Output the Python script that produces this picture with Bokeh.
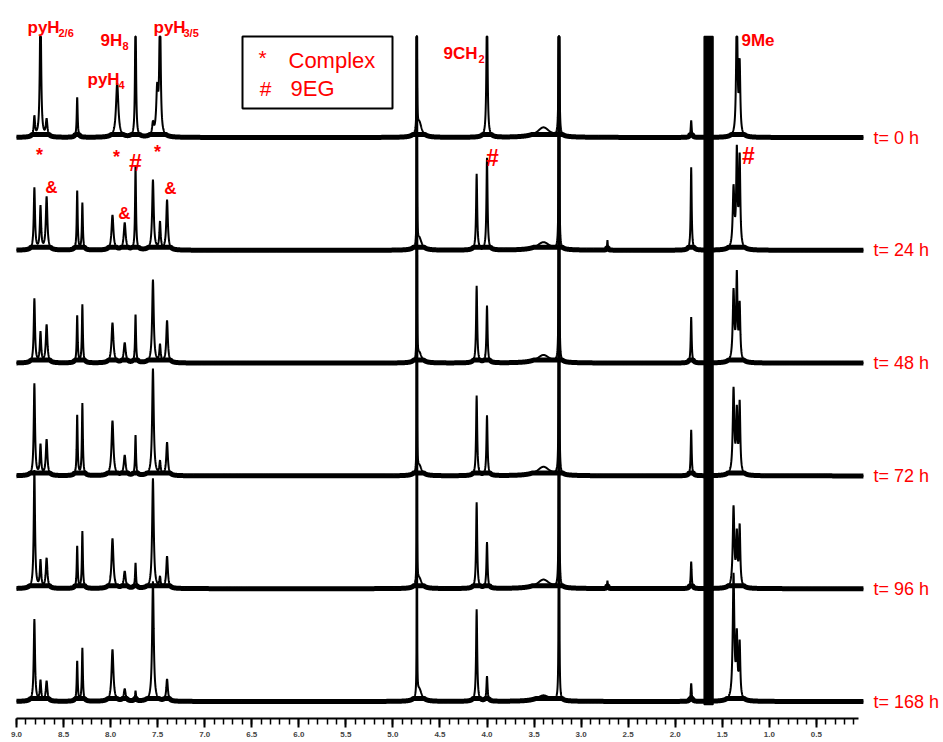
import numpy as np
from bokeh.plotting import figure
from bokeh.models import Range1d, SingleIntervalTicker, PrintfTickFormatter
from bokeh.core.properties import value
from bokeh.embed import file_html
from bokeh.resources import INLINE

# ---------------- data ----------------
TIME_LABELS = ["t= 0 h", "t= 24 h", "t= 48 h", "t= 72 h", "t= 96 h", "t= 168 h"]

# shared peak positions (ppm) and half widths (ppm)
PEAK_PPM  = [8.81, 8.745, 8.68, 8.355, 8.30, 7.98, 7.93, 7.85, 7.735, 7.55, 7.505, 7.475, 7.40,
             4.72, 4.11, 4.00, 3.40, 2.72, 1.83, 1.38, 1.345, 1.315]
PEAK_HWHM = [0.008, 0.008, 0.010, 0.006, 0.006, 0.012, 0.015, 0.012, 0.006, 0.010, 0.012, 0.008, 0.010,
             0.030, 0.007, 0.007, 0.080, 0.004, 0.006, 0.010, 0.008, 0.008]

# peak heights for each spectrum (px above its own baseline; >100 means off-scale)
H_0H   = [20, 140, 17, 40, 0, 0, 54, 0, 140, 12, 45, 140, 0,
          15, 0, 140, 10, 0, 17, 0, 140, 70]
H_24H  = [62, 43, 53, 59, 47, 35, 0, 27, 84, 70, 0, 27, 50,
          12, 76, 92, 8, 10, 83, 60, 95, 90]
H_48H  = [64, 30, 38, 47, 58, 40, 0, 20, 48, 83, 0, 17, 42,
          10, 77, 57, 8, 0, 46, 70, 84, 55]
H_72H  = [92, 30, 36, 60, 72, 55, 0, 20, 40, 107, 0, 13, 33,
          10, 80, 60, 9, 0, 46, 85, 60, 70]
H_96H  = [118, 27, 30, 42, 57, 50, 0, 17, 25, 110, 0, 10, 32,
          10, 86, 46, 9, 8, 27, 80, 50, 60]
H_168H = [82, 20, 20, 40, 53, 52, 0, 12, 10, 120, 0, 0, 22,
          12, 92, 25, 6, 0, 18, 125, 60, 55]
HEIGHTS = [H_0H, H_24H, H_48H, H_72H, H_96H, H_168H]

# off-scale solvent / reference lines present in every spectrum
SOLVENT_PPM    = [4.745, 3.235]
SOLVENT_HEIGHT = [3000, 3000]
SOLVENT_HWHM   = [0.0006, 0.0010]
# saturated solvent band (ppm edges), off-scale in every spectrum
BAND_PPM = [1.692, 1.598]

# ---------------- layout helpers ----------------
PX_PER_PPM = 94.1
LEFT_PX = 16.0           # pixel of 9.0 ppm
FRAME_H = 718.0
def X(px):
    return 9.0 - (px - LEFT_PX) / PX_PER_PPM
def Y(py):
    return FRAME_H - py

TOP = Y(36)                                   # spectra are cut here
BASE_PX = [137 + i * 112.8 for i in range(6)]  # stacking baselines

RED = "#ff0000"
FONT = "Liberation Sans"

p = figure(width=943, height=742, x_range=Range1d(X(0), X(943)), y_range=Range1d(0, FRAME_H),
           output_backend="svg", toolbar_location=None,
           min_border_left=0, min_border_right=0, min_border_top=0, min_border_bottom=24)
p.outline_line_color = None
p.xgrid.visible = False
p.ygrid.visible = False
p.yaxis.visible = False
p.background_fill_color = "white"
p.border_fill_color = "white"

ax = p.xaxis[0]
ax.ticker = SingleIntervalTicker(interval=0.5, num_minor_ticks=5)
ax.formatter = PrintfTickFormatter(format="%.1f")
ax.bounds = (0.05, 9.0)
ax.axis_line_width = 2
ax.major_tick_line_width = 2
ax.minor_tick_line_width = 1.5
ax.major_tick_out = 9
ax.major_tick_in = 0
ax.minor_tick_out = 6
ax.minor_tick_in = 0
ax.major_label_standoff = 4
ax.major_label_text_font = FONT
ax.major_label_text_font_style = "bold"
ax.major_label_text_font_size = "8px"

grid = np.round(np.arange(0.0, 9.0 + 1e-9, 0.002), 4)
grid = np.union1d(grid, np.array(PEAK_PPM + SOLVENT_PPM))

xs, ys, bxs, bys = [], [], [], []
for i, hs in enumerate(HEIGHTS):
    spec = np.zeros_like(grid)
    for ppm, h, w in zip(PEAK_PPM, hs, PEAK_HWHM):
        if h:
            spec += h / (1.0 + ((grid - ppm) / w) ** 2)
    for ppm, h, w in zip(SOLVENT_PPM, SOLVENT_HEIGHT, SOLVENT_HWHM):
        spec += h / (1.0 + ((grid - ppm) / w) ** 2)
    base = Y(BASE_PX[i])
    xs.append(grid)
    ys.append(np.minimum(base + spec, TOP))
    bxs.append(grid)
    bys.append(base + np.minimum(spec, 3.0))

p.multi_line(xs=bxs, ys=bys, line_color="black", line_width=5)
p.multi_line(xs=xs, ys=ys, line_color="black", line_width=2)

# saturated solvent band through the whole stack
p.quad(left=[BAND_PPM[0]], right=[BAND_PPM[1]], bottom=[Y(BASE_PX[-1]) - 3], top=[TOP],
       fill_color="black", line_color="black", line_width=1.5)

# time labels on the right
p.text(x=[X(873)] * 6, y=[Y(b) for b in BASE_PX], text=TIME_LABELS,
       text_color=RED, text_font=value(FONT), text_font_size="18px",
       text_align="left", text_baseline="middle")

# peak assignment labels (main part + subscript)
main_txt = ["pyH", "9H", "pyH", "pyH", "9CH", "9Me"]
main_px  = [27, 100, 87, 153, 443, 741]
main_py  = [27, 40, 79, 27, 53, 40]
sub_txt  = ["2/6", "8", "4", "3/5", "2"]
sub_px   = [58, 122, 118, 183, 478]
sub_py   = [32, 45, 84, 32, 58]
p.text(x=[X(v) for v in main_px], y=[Y(v) for v in main_py], text=main_txt,
       text_color=RED, text_font=value(FONT), text_font_size="17px", text_font_style="bold",
       text_align="left", text_baseline="alphabetic")
p.text(x=[X(v) for v in sub_px], y=[Y(v) for v in sub_py], text=sub_txt,
       text_color=RED, text_font=value(FONT), text_font_size="11px", text_font_style="bold",
       text_align="left", text_baseline="alphabetic")

# marker symbols
sym_txt = ["*", "*", "*", "#", "#", "#", "&", "&", "&"]
sym_px  = [39, 116, 157, 135, 492, 748, 51, 170, 124]
sym_py  = [154, 156, 151, 162, 157, 155, 187, 188, 213]
sym_sz  = ["18px", "18px", "18px", "23px", "23px", "23px", "17px", "17px", "17px"]
p.text(x=[X(v) for v in sym_px], y=[Y(v) for v in sym_py], text=sym_txt,
       text_color=RED, text_font=value(FONT), text_font_size=sym_sz, text_font_style="bold",
       text_align="center", text_baseline="middle")

# legend box
p.quad(left=[X(242)], right=[X(392)], top=[Y(36)], bottom=[Y(108)],
       fill_color=None, line_color="black", line_width=2)
p.text(x=[X(262), X(265)], y=[Y(57), Y(88)], text=["*", "#"],
       text_color=RED, text_font=value(FONT), text_font_size="21px",
       text_align="center", text_baseline="middle")
p.text(x=[X(288), X(290)], y=[Y(60), Y(88)], text=["Complex", "9EG"],
       text_color=RED, text_font=value(FONT), text_font_size="22px",
       text_align="left", text_baseline="middle")

open("out.html", "w").write(file_html(p, INLINE))
